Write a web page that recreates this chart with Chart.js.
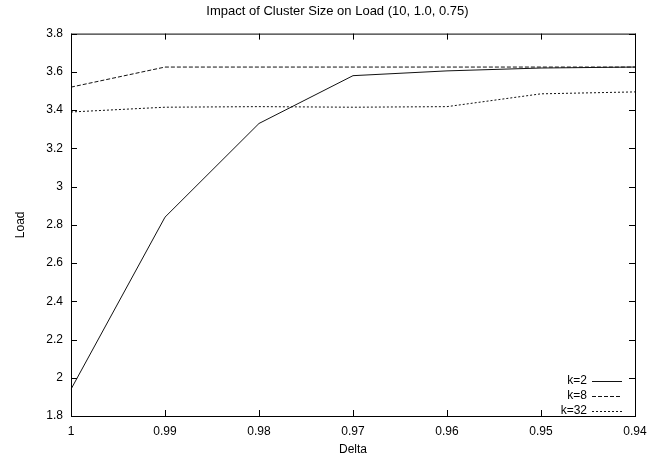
<!DOCTYPE html>
<html>
<head>
<meta charset="utf-8">
<title>Impact of Cluster Size on Load</title>
<script src="https://cdn.jsdelivr.net/npm/chart.js@4.4.1/dist/chart.umd.min.js"></script>
<style>
  body { margin: 0; background: #fff; }
  canvas { display: block; }
</style>
</head>
<body>
<canvas id="grafico" width="667" height="459"></canvas>
<script>
// valori
var labels_delta = ['1', '0.99', '0.98', '0.97', '0.96', '0.95', '0.94'];
var load_k2 = [1.94, 2.84, 3.33, 3.58, 3.605, 3.62, 3.625];
var load_k8 = [3.52, 3.625, 3.625, 3.625, 3.625, 3.625, 3.625];
var load_k32 = [3.39, 3.415, 3.418, 3.415, 3.418, 3.485, 3.495];
var nomi_serie = ['k=2', 'k=8', 'k=32'];
var tratti = [[], [4, 2], [2, 2]];

var font_base = "'Liberation Sans', Arial, Helvetica, sans-serif";

// tacche interne su tutti e quattro i lati + cornice + legenda in basso a destra
var pluginCornice = {
  id: 'cornice',
  afterDraw: function(chart) {
    var ctx = chart.ctx;
    var area = chart.chartArea;
    var xs = chart.scales.x;
    var ys = chart.scales.y;
    ctx.save();
    ctx.strokeStyle = '#000';
    ctx.lineWidth = 1;
    ctx.strokeRect(area.left + 0.5, area.top + 0.5, area.right - area.left, area.bottom - area.top);
    ctx.beginPath();
    for (var i = 0; i < xs.ticks.length; i++) {
      var px = Math.round(xs.getPixelForTick(i)) + 0.5;
      ctx.moveTo(px, area.bottom);
      ctx.lineTo(px, area.bottom - 6);
      ctx.moveTo(px, area.top);
      ctx.lineTo(px, area.top + 6);
    }
    for (var j = 0; j < ys.ticks.length; j++) {
      var py = Math.round(ys.getPixelForValue(ys.ticks[j].value)) + 0.5;
      ctx.moveTo(area.left, py);
      ctx.lineTo(area.left + 6, py);
      ctx.moveTo(area.right, py);
      ctx.lineTo(area.right - 6, py);
    }
    ctx.stroke();

    // legenda
    ctx.font = '12px ' + font_base;
    ctx.textAlign = 'right';
    ctx.textBaseline = 'middle';
    ctx.fillStyle = '#000';
    for (var k = 0; k < chart.data.datasets.length; k++) {
      var ds = chart.data.datasets[k];
      var ly = area.bottom - 35 + k * 15;
      ctx.fillText(ds.label, area.right - 48, ly);
      ctx.beginPath();
      ctx.setLineDash(ds.borderDash);
      ctx.strokeStyle = ds.borderColor;
      ctx.moveTo(area.right - 43, Math.round(ly) + 0.5);
      ctx.lineTo(area.right - 13, Math.round(ly) + 0.5);
      ctx.stroke();
      ctx.setLineDash([]);
    }
    ctx.restore();
  }
};

function serie(nome, valori, dash) {
  return {
    label: nome,
    data: valori,
    borderColor: '#111',
    borderWidth: 1,
    borderDash: dash,
    pointRadius: 0,
    tension: 0,
    fill: false
  };
}

var ctx = document.getElementById('grafico');
var grafico = new Chart(ctx, {
  type: 'line',
  data: {
    labels: labels_delta,
    datasets: [
      serie(nomi_serie[0], load_k2, tratti[0]),
      serie(nomi_serie[1], load_k8, tratti[1]),
      serie(nomi_serie[2], load_k32, tratti[2])
    ]
  },
  options: {
    responsive: false,
    animation: false,
    devicePixelRatio: 1,
    layout: { padding: { left: 40, right: 32, top: 0, bottom: 0 } },
    plugins: {
      legend: { display: false },
      tooltip: { enabled: false },
      title: {
        display: true,
        text: 'Impact of Cluster Size on Load (10, 1.0, 0.75)',
        color: '#000',
        font: { family: font_base, size: 13, weight: 'normal' },
        padding: { top: 4, bottom: 14 }
      }
    },
    scales: {
      x: {
        type: 'category',
        offset: false,
        grid: { display: false, drawTicks: false },
        border: { display: false },
        ticks: {
          color: '#000',
          font: { family: font_base, size: 12 },
          padding: 8,
          maxRotation: 0,
          autoSkip: false
        },
        title: {
          display: true,
          text: 'Delta',
          color: '#000',
          font: { family: font_base, size: 12 },
          padding: { top: 0, bottom: 2 }
        },
        afterFit: function(scale) { scale.height = 43; }
      },
      y: {
        min: 1.8,
        max: 3.8,
        grid: { display: false, drawTicks: false },
        border: { display: false },
        ticks: {
          stepSize: 0.2,
          color: '#000',
          font: { family: font_base, size: 12 },
          padding: 8,
          callback: function(v) { return String(Number(v.toFixed(1))); }
        },
        title: {
          display: true,
          text: 'Load',
          color: '#000',
          font: { family: font_base, size: 12 },
          padding: { top: -27, bottom: 0 }
        },
        afterFit: function(scale) { scale.width = 31; }
      }
    }
  },
  plugins: [pluginCornice]
});
</script>
</body>
</html>
